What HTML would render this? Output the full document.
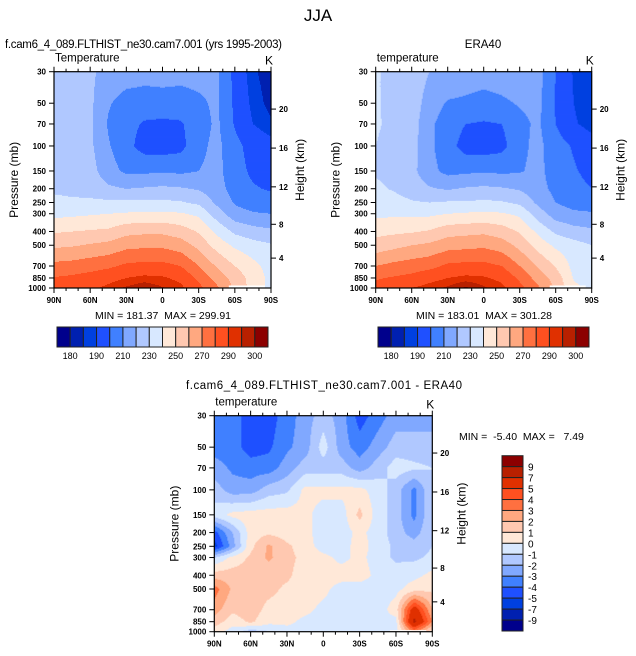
<!DOCTYPE html>
<html><head><meta charset="utf-8"><style>
body{margin:0;background:#fff;}
svg{display:block;font-family:"Liberation Sans",Arial,sans-serif;}
svg text{white-space:pre;}
</style></head><body>
<svg id="fig" width="636" height="656" viewBox="0 0 636 656" xmlns="http://www.w3.org/2000/svg">
<rect width="636" height="656" fill="#fff"/>
<text x="318" y="21" font-size="17" text-anchor="middle">JJA</text>
</svg>
<script>
// ---- data ----
const lats = [90,75,60,45,30,15,0,-15,-30,-45,-60,-75,-90];
const levs = [30,50,70,100,150,200,250,300,400,500,700,850,1000];
const modelT = [
[223,223,222,216,215,214,214,214,214,212,197,186,182],
[224,224,222,211,206,205,206,205,208,212,198,188,183],
[225,225,222,209,203,199,198,199,205,212,199,190,186],
[226,225,222,211,203,196,195,197,207,213,203,196,193],
[227,226,224,214,208,208,209,208,210,213,204,198,196],
[228,227,226,222,220,221,222,221,219,214,206,201,199],
[233,232,232,232,232,232,232,231,228,218,209,205,204],
[237,238,239,240,241,242,242,241,238,225,214,211,210],
[249,250,251,252,257,258,258,255,249,238,228,224,222],
[258,259,261,263,267,268,268,265,257,246,238,234,231],
[273,274,276,278,282,283,283,280,270,259,250,243,236],
[280.5,282,284,287,290,292,291,288,278,266,256,246,237],
[284,286,288,292,296,299,295.5,292,283,272,258,246,237]];
const eraT = [
[231,227,226,220,218,216,215,216,218,214,200,189,185],
[231,227,226,215,209,208,206,208,211,213,199,190,185],
[231,228,225,212,205,200,199,200,207,212,200,191,187],
[230,227,224,212,204,196,195,197,207,213,204,199,194],
[229,226,223,213,207,208,209,208,209,213,205,201,197],
[232,229,225,221,219,221,222,221,219,214,207,203,200],
[238,234,231,230,231,231,232,231,228,218,210,206,205],
[238,238,238,238,240,241,242,241,238,225,215,212,211],
[247,248,249,251,256,257,258,255,249,238,228,224,222],
[254,257,260,262,266,267,268,265,257,246,238,234,230],
[270,273,275,277,282,283,283,280,270,259,249,237,234],
[279,281,283,287,290,292,291,288,278,266,256,239,234],
[283,286,290,293,296,301,296,292,283,272,258,243,236]];
const diffT = [
[-3.5,-3.5,-4.5,-4.5,-3.5,-2.5,-1.5,-2.5,-4.5,-3.5,-2.5,-2.5,-2.5],
[-3.5,-3.5,-4.5,-4.2,-3.2,-2.5,-0.5,-2.5,-3.5,-2.5,-1.5,-1.5,-1.5],
[-2.5,-3.2,-3.5,-3.5,-2.5,-1.5,-1.5,-1.5,-2.5,-1.5,-0.5,-0.8,-1],
[-1.5,-2.5,-2.5,-1.5,-1.2,0.3,0.3,0.3,0.3,-0.5,-1.5,-3.3,-1],
[-0.5,0.3,0.5,0.5,0.5,0.3,-0.5,-0.5,1.3,-0.5,-1.5,-3.3,-1],
[-4.5,-2,0.5,0.8,0.5,0.3,-0.5,-0.5,0.3,-0.5,-1.5,-2.5,-1],
[-5.5,-2.5,0.7,2.2,1.2,0.5,-0.5,-0.5,0.5,-0.5,-1.2,-1.5,-1],
[-1,0.3,1.2,2.2,1.3,0.7,0.3,-0.3,0.3,-0.5,-1.2,-1.2,-0.8],
[1.5,1.5,1.5,1.3,1.2,0.5,0.5,0.5,0.5,-0.3,-0.5,-0.3,0.3],
[3.5,1.8,1.3,1.3,0.8,0.5,0.3,-0.5,-0.5,-0.5,-0.3,0.5,0.8],
[2.5,1.2,1.5,0.7,0.5,0.3,-0.3,-0.5,-0.5,-0.5,0.5,6,2],
[1.5,0.5,1.2,0.3,0.3,-0.3,-0.5,-0.5,-0.5,-0.5,-0.3,7.5,3],
[0.5,-0.5,-1.5,-1,-0.5,-0.3,-0.5,-0.5,-0.5,-0.5,-0.5,3,0.5]];
const tLevels = [180,185,190,200,210,220,230,240,250,260,270,280,290,295,300];
const tLabels = ["180","190","210","230","250","270","290","300"];
const dLevels = [-9,-7,-5,-4,-3,-2,-1,0,1,2,3,4,5,7,9];
const dLabels = ["-9","-7","-5","-4","-3","-2","-1","0","1","2","3","4","5","7","9"];
const palette = ["#00008c","#0020b0","#0040e0","#1f50ff","#4080ff","#80a8ff","#b0c8ff","#d8e8ff","#ffe8d8","#ffc8b0","#ffa880","#ff7040","#ff5020","#e03000","#b82000","#8c0000"];
const pTicks = [30,50,70,100,150,200,250,300,400,500,700,850,1000];
const latTicks = [90,60,30,0,-30,-60,-90];
const hTicks = [4,8,12,16,20];
const hPress = [616,356,194,103.5,55];

const NS="http://www.w3.org/2000/svg";
const svg=document.getElementById('fig');
function mk(tag,attrs,parent){const e=document.createElementNS(NS,tag);for(const k in attrs)e.setAttribute(k,attrs[k]);(parent||svg).appendChild(e);return e;}
const L30=Math.log10(30), LR=Math.log10(1000/30);

function interp(grid,lat,lp){
  let j=0;while(j<lats.length-2&&lat<lats[j+1])j++;
  let fx=(lats[j]-lat)/(lats[j]-lats[j+1]);
  let i=0;const ll=levs.map(Math.log10);while(i<levs.length-2&&lp>ll[i+1])i++;
  let fy=(lp-ll[i])/(ll[i+1]-ll[i]);
  fx=Math.max(0,Math.min(1,fx));fy=Math.max(0,Math.min(1,fy));
  const a=grid[i][j],b=grid[i][j+1],c=grid[i+1][j],d=grid[i+1][j+1];
  return a*(1-fx)*(1-fy)+b*fx*(1-fy)+c*(1-fx)*fy+d*fx*fy;
}
function bin(v,lv){let k=0;while(k<lv.length&&v>=lv[k])k++;return k;}

function panel(name,x0,y0,w,h,grid,lv,opts){
  const g=mk('g',{});
  
  
  const X=lat=>x0+(90-lat)/180*w;
  const Y=p=>y0+(Math.log10(p)-L30)/LR*h;
  const W=Math.round(w),H=Math.round(h);
  for(let r=0;r<H;r++){
    const lp=L30+(r+0.5)/H*LR;
    let start=0,cur=-1;
    for(let c=0;c<=W;c++){
      let k=-1;
      if(c<W){const lat=90-(c+0.5)/W*180;k=bin(interp(grid,lat,lp),lv);}
      if(k!==cur){
        if(cur>=0){const rc=mk('rect',{x:x0+start*w/W,y:y0+r*h/H,width:(c-start)*w/W+0.4,height:h/H+0.4,fill:palette[cur]},g);
          }
        cur=k;start=c;
      }
    }
  }
  const ms=mk('rect',{x:X(-55),y:Y(opts.msP),width:X(-85)-X(-55),height:y0+h-Y(opts.msP),fill:'#fff'},g);
  
  mk('rect',{x:x0,y:y0,width:w,height:h,fill:'none',stroke:'#000','stroke-width':1.2},g);
  for(let lat=90;lat>=-90;lat-=10){
    const x=X(lat),maj=lat%30===0,l=maj?5:3;
    mk('line',{x1:x,x2:x,y1:y0+h,y2:y0+h+l,stroke:'#000','stroke-width':1},g);
    mk('line',{x1:x,x2:x,y1:y0,y2:y0-l,stroke:'#000','stroke-width':1},g);
  }
  latTicks.forEach(lat=>{
    const t=mk('text',{x:X(lat),y:y0+h+15,'font-size':8,'font-weight':'bold','text-anchor':'middle'},g);
    
    t.textContent=lat===0?'0':(Math.abs(lat)+(lat>0?'N':'S'));
  });
  pTicks.forEach(p=>{
    const y=Y(p);
    mk('line',{x1:x0-5,x2:x0,y1:y,y2:y,stroke:'#000','stroke-width':1},g);
    const t=mk('text',{x:x0-8,y:y+3,'font-size':8,'font-weight':'bold','text-anchor':'end'},g);
    
    t.textContent=p;
  });
  hTicks.forEach((hk,i)=>{
    const y=Y(hPress[i]);
    mk('line',{x1:x0+w,x2:x0+w+5,y1:y,y2:y,stroke:'#000','stroke-width':1},g);
    const t=mk('text',{x:x0+w+8,y:y+3,'font-size':8,'font-weight':'bold'},g);
    
    t.textContent=hk;
  });
  const yl=mk('text',{x:0,y:0,'font-size':12,'text-anchor':'middle',transform:`translate(${x0-36},${y0+h/2}) rotate(-90)`},g);
  
  yl.textContent='Pressure (mb)';
  const hl=mk('text',{x:0,y:0,'font-size':12,'text-anchor':'middle',transform:`translate(${x0+w+33},${y0+h/2-10}) rotate(-90)`},g);
  
  hl.textContent='Height (km)';
  const lt=mk('text',{x:x0+1,y:y0-10,'font-size':11.5},g);
  
  lt.textContent=opts.left;
  const kt=mk('text',{x:x0+w-2,y:y0-7,'font-size':12,'text-anchor':'middle'},g);
  
  kt.textContent='K';
}

function hbar(name,x0,y0,w,h){
  const g=mk('g',{});
  
  const bw=w/palette.length;
  palette.forEach((c,i)=>{const r=mk('rect',{x:x0+i*bw,y:y0,width:bw,height:h,fill:c,stroke:'#222','stroke-width':1},g);
    });
  tLabels.forEach((s,k)=>{const t=mk('text',{x:x0+(2*k+1)*bw,y:y0+h+12,'font-size':9,'text-anchor':'middle'},g);
    t.textContent=s;});
}
function vbar(name,x0,y0,w,h){
  const g=mk('g',{});
  
  const bh=h/palette.length;
  palette.slice().reverse().forEach((c,i)=>{const r=mk('rect',{x:x0,y:y0+i*bh,width:w,height:bh,fill:c,stroke:'#222','stroke-width':1},g);
    });
  dLabels.slice().reverse().forEach((s,k)=>{const t=mk('text',{x:x0+w+5,y:y0+(k+1)*bh+4,'font-size':10},g);
    t.textContent=s;});
}
function txt(name,x,y,s,attrs){const t=mk('text',Object.assign({x:x,y:y},attrs));t.textContent=s;return t;}

panel('model-panel',54,71.7,217,216.3,modelT,tLevels,{left:'Temperature',msP:960});
panel('era40-panel',375.7,71.7,216,216.3,eraT,tLevels,{left:'temperature',msP:960});
panel('diff-panel',214.3,415.7,218,216,diffT,dLevels,{left:'temperature',msP:975});
hbar('model-colorbar',57,327,211,20);
hbar('era40-colorbar',378,327,211,20);
vbar('diff-colorbar',502,455.7,21,175.3);
txt('model-title',5,48,'f.cam6_4_089.FLTHIST_ne30.cam7.001 (yrs 1995-2003)',{'font-size':11.5,textLength:277});
txt('era40-title',483,48,'ERA40',{'font-size':11.5,'text-anchor':'middle'});
txt('model-minmax',163,319,'MIN = 181.37  MAX = 299.91',{'font-size':10.5,'text-anchor':'middle'});
txt('era40-minmax',484,319,'MIN = 183.01  MAX = 301.28',{'font-size':10.5,'text-anchor':'middle'});
txt('diff-title',186,389,'f.cam6_4_089.FLTHIST_ne30.cam7.001 - ERA40',{'font-size':11.5,textLength:276});
txt('diff-minmax',459,440,'MIN =  -5.40  MAX =   7.49',{'font-size':10.5});
</script>
</body></html>
